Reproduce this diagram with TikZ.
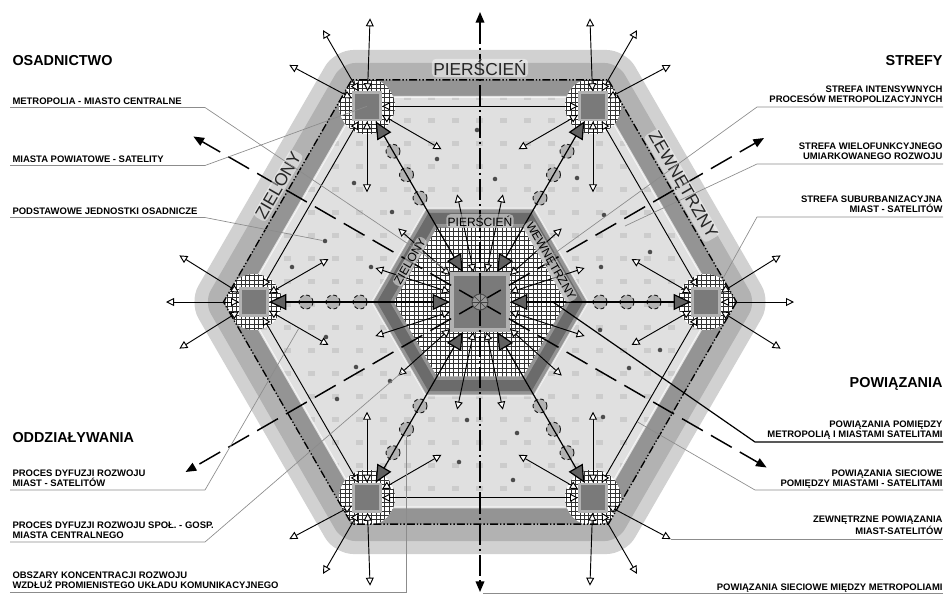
\documentclass[tikz,border=0pt]{standalone}
\usepackage{fontspec}
\setmainfont{Liberation Sans}
\usetikzlibrary{arrows.meta,calc}
\tikzset{every picture/.style={line width=0.75pt}}
\newcommand{\hexa}[1]{($(c)+(0:#1)$) -- ($(c)+(60:#1)$) -- ($(c)+(120:#1)$) -- ($(c)+(180:#1)$) -- ($(c)+(240:#1)$) -- ($(c)+(300:#1)$) -- cycle}
\tikzset{
  otip/.tip={Triangle[fill=white,length=6pt,width=6pt]},
  btip/.tip={Triangle[fill=black!62,length=13pt,width=12pt]},
  ktip/.tip={Triangle[length=8pt,width=6.5pt]},
  hatchline/.style={draw=black!80,line width=0.4pt},
  satbox/.style={draw=black!30,fill=black!52,line width=2pt,minimum size=20.5pt,inner sep=0pt},
  metrobox/.style={draw=black!30,fill=black!52,line width=3pt,minimum size=42pt,inner sep=0pt},
  diffuse/.style={otip-otip,line width=0.7pt},
  hub/.style={circle,draw=black!90,densely dashed,fill=black!30,line width=0.7pt,minimum size=10.5pt,inner sep=0pt},
  settle/.style={circle,fill=black!70,minimum size=3.4pt,inner sep=0pt},
  glow/.style={fill=white,fill opacity=0.45,text opacity=1,rounded corners=3pt,inner sep=1pt},
  ringlbl/.style={glow,font=\fontsize{13}{13}\selectfont,text=black!85},
  innerlbl/.style={glow,font=\fontsize{9}{9}\selectfont,text=black},
  lghead/.style={font=\bfseries\fontsize{10.8}{12}\selectfont,inner sep=0pt},
  lgitem/.style={font=\bfseries\fontsize{7.1}{7.6}\selectfont,inner sep=0pt,text depth=0pt},
  leader/.style={draw=black!45,line width=0.5pt},
  ringdash/.style={line width=1pt,dash pattern=on 6pt off 1.5pt on 1pt off 1.5pt on 1pt off 1.5pt},
  axisline/.style={line width=1.1pt,dash pattern=on 16pt off 3pt on 1.5pt off 3pt},
  netline/.style={line width=1.1pt,dash pattern=on 18pt off 7pt},
}

\begin{document}
\begin{tikzpicture}[x=0.75pt,y=0.75pt,yscale=-1,xscale=1]
\useasboundingbox (0,0) rectangle (946,594);
\coordinate (c) at (480,302);
\coordinate (zr) at (943,0);

% pierscien zewnetrzny
\fill[black!18,rounded corners=14] \hexa{291};
\fill[black!30,rounded corners=10] \hexa{276};
\fill[black!42] \hexa{256.5};
\fill[black!12] \hexa{237};
\begin{scope}
\clip \hexa{237};
\foreach \x in {236,260,...,724} \foreach \y in {72,95,...,532} \fill[black!20] (\x,\y) rectangle ++(7,5);
\end{scope}
\draw[white,line width=1.5pt,opacity=.7] \hexa{237};

% strefy suburbanizacji
\foreach \a [count=\i] in {0,60,...,300}{
  \coordinate (p\i) at ($(c)+(\a:226)$);
  \begin{scope}
    \clip \hexa{256.5};
    \clip (p\i) circle (28);
    \fill[white] (p\i) circle (28);
    \foreach \k in {-7,...,7}{
      \draw[hatchline] ($(p\i)+(\k*4.4,-31)$) -- ++(0,62);
      \draw[hatchline] ($(p\i)+(-31,\k*4.4)$) -- ++(62,0);
    }
  \end{scope}
}

% pierscien wewnetrzny
\fill[black!42] \hexa{108};
\fill[black!58] \hexa{103};
\fill[black!42] \hexa{90};
\fill[white] \hexa{86};
\begin{scope}
\clip \hexa{86};
\foreach \k in {-22,...,22}{
  \draw[hatchline] ($(c)+(\k*4.4,-90)$) -- ++(0,180);
  \draw[hatchline] ($(c)+(-100,\k*4.4)$) -- ++(200,0);
}
\end{scope}
\draw[white,line width=1.2pt,opacity=.7] \hexa{108};

\draw[ringdash] \hexa{256.5};

% jednostki osadnicze
\foreach \p [count=\k] in {(325,241),(477,130),(437,159),(354,183),(392,212),(495,179),(577,178),(604,215),(601,267),(356,367),(390,381),(337,399),(467,420),(459,462),(292,267),(371,267),(326,337),(650,252),(600,330),(660,350),(629,368),(517,433),(513,480),(603,417)}
  \node[settle] (u\k) at \p {};

% metropolia i satelity
\node[metrobox] (metro) at (c) {};
\foreach \a [count=\i] in {0,60,...,300} \node[satbox] (sat\i) at (p\i) {};

% powiazania metropolia - satelity
\foreach \a [count=\i] in {0,60,...,300}{
  \foreach \r [count=\j] in {120,147,174}
    \node[hub] (h\i\j) at ($(c)+(\a:\r)$) {};
  \draw[btip-btip,line width=0.9pt] (metro) -- (sat\i);
}

% powiazania sieciowe satelitow
\foreach \i/\j in {1/2,2/3,3/4,4/5,5/6,6/1} \draw[diffuse] (sat\i) -- (sat\j);

% dyfuzja satelitow
\foreach \a [count=\i] in {0,60,...,300}{
  \foreach \d [count=\k] in {0,32,-32} \draw[diffuse] (sat\i) -- ++({\a+\d}:88) coordinate (x\i\k);
  \foreach \d in {150,210} \draw[diffuse] (sat\i) -- ++({\a+\d}:86);
}

% dyfuzja miasta centralnego
\foreach \b in {18,42,78,102,138,162,198,222,258,282,318,342} \draw[diffuse] (metro) -- ++(\b:110);

% powiazania miedzy metropoliami
\foreach \a/\l in {-150/331,150/340,-30/328,30/331} \draw[netline,-ktip] (c) -- ++(\a:\l);
\coordinate (ntop) at (480,12);
\coordinate (nbot) at (480,592);
\draw[axisline,ktip-ktip] (ntop) -- (nbot);

\node[circle,draw=black!70,fill=black!40,minimum size=12pt,inner sep=0pt] (core) at (c) {};
\foreach \a in {0,45,90,135} \draw[black!75,line width=0.4pt] ($(c)+(\a:8)$) -- ($(c)+({\a+180}:8)$);

% nazwy pierscieni
\node[ringlbl] (rtop) at ($(c)+(-90:234)$) {PIERŚCIEŃ};
\node[ringlbl,rotate=60] (rleft) at ($(c)+(-150:233)$) {ZIELONY};
\node[ringlbl,rotate=-60] (rright) at ($(c)+(-30:233)$) {ZEWNĘTRZNY};
\node[innerlbl] (itop) at ($(c)+(-90:81)$) {PIERŚCIEŃ};
\node[innerlbl,rotate=60] (ileft) at ($(c)+(-150:81)$) {ZIELONY};
\node[innerlbl,rotate=-60] (iright) at ($(c)+(-30:81)$) {WEWNĘTRZNY};

% legenda lewa
\node[lghead,anchor=base west] (hosad) at (12,65) {OSADNICTWO};
\node[lgitem,anchor=base west] (lmetro) at (12,104) {METROPOLIA - MIASTO CENTRALNE};
\node[lgitem,anchor=base west] (lsat) at (12,162) {MIASTA POWIATOWE - SATELITY};
\node[lgitem,anchor=base west] (lunit) at (12,214) {PODSTAWOWE JEDNOSTKI OSADNICZE};
\node[lghead,anchor=base west] (hodd) at (12,442) {ODDZIAŁYWANIA};
\node[lgitem,anchor=south west,align=left] (ldsat) at (12,487) {PROCES DYFUZJI ROZWOJU\\MIAST - SATELITÓW};
\node[lgitem,anchor=south west,align=left] (ldcen) at (12,539) {PROCES DYFUZJI ROZWOJU SPOŁ. - GOSP.\\MIASTA CENTRALNEGO};
\node[lgitem,anchor=south west,align=left] (lconc) at (12,589) {OBSZARY KONCENTRACJI ROZWOJU\\WZDŁUŻ PROMIENISTEGO UKŁADU KOMUNIKACYJNEGO};

% legenda prawa
\node[lghead,anchor=base east] (hstr) at (943,65) {STREFY};
\node[lgitem,anchor=south east,align=right] (lint) at (943,103) {STREFA INTENSYWNYCH\\PROCESÓW METROPOLIZACYJNYCH};
\node[lgitem,anchor=south east,align=right] (lmulti) at (943,160) {STREFA WIELOFUNKCYJNEGO\\UMIARKOWANEGO ROZWOJU};
\node[lgitem,anchor=south east,align=right] (lsub) at (943,213) {STREFA SUBURBANIZACYJNA\\MIAST - SATELITÓW};
\node[lghead,anchor=base east] (hpow) at (943,387) {POWIĄZANIA};
\node[lgitem,anchor=south east,align=right] (lmlink) at (943,438) {POWIĄZANIA POMIĘDZY\\METROPOLIĄ I MIASTAMI SATELITAMI};
\node[lgitem,anchor=south east,align=right] (lnet) at (943,487) {POWIĄZANIA SIECIOWE\\POMIĘDZY MIASTAMI - SATELITAMI};
\node[lgitem,anchor=south east,align=right] (lext) at (943,535) {ZEWNĘTRZNE POWIĄZANIA\\MIAST-SATELITÓW};
\node[lgitem,anchor=base east] (lmet) at (943,590) {POWIĄZANIA SIECIOWE MIĘDZY METROPOLIAMI};

% odnosniki
\coordinate (q1) at (299,328);
\coordinate (q2) at ($(c)+(138:105)$);
\coordinate (q3) at (548,258);
\coordinate (q4) at (625,226);
\coordinate (q5) at (721,282);
\coordinate (q6) at (553,302);
\coordinate (q7) at (637.6,422);
\draw[leader] (lmetro.south west) ++(-2,3) -- ++(195,0) -- (metro.north west);
\draw[leader] (lsat.south west) ++(-2,3) -- ++(195,0) -- (sat5.center);
\draw[leader] (lunit.south west) ++(-2,3) -- ++(195,0) -- (u1);
\draw[leader] (ldsat.south west) ++(-2,3) -- ++(195,0) -- (q1);
\draw[leader] (ldcen.south west) ++(-2,3) -- ++(195,0) -- (q2);
\draw[leader] (lconc.south west) ++(-2,3.5) coordinate (k6) -- (k6 -| h32.south) -- (h32.south);
\draw[leader] (lint.south east) ++(0,4) -- ++(-186,0) -- (q3);
\draw[leader] (lmulti.south east) ++(0,4) -- ++(-186,0) -- (q4);
\draw[leader] (lsub.south east) ++(0,4) -- ++(-186,0) -- (q5);
\draw[black,line width=0.9pt] (lmlink.south east) ++(0,4) -- ++(-188,0) -- (q6);
\draw[leader] (lnet.south east) ++(0,3) -- ++(-188,0) -- (q7);
\draw[leader] (x23) -- (x23 -| zr);
\draw[leader] (nbot) ++(3,1) -- ++(460,0);

\end{tikzpicture}
\end{document}
